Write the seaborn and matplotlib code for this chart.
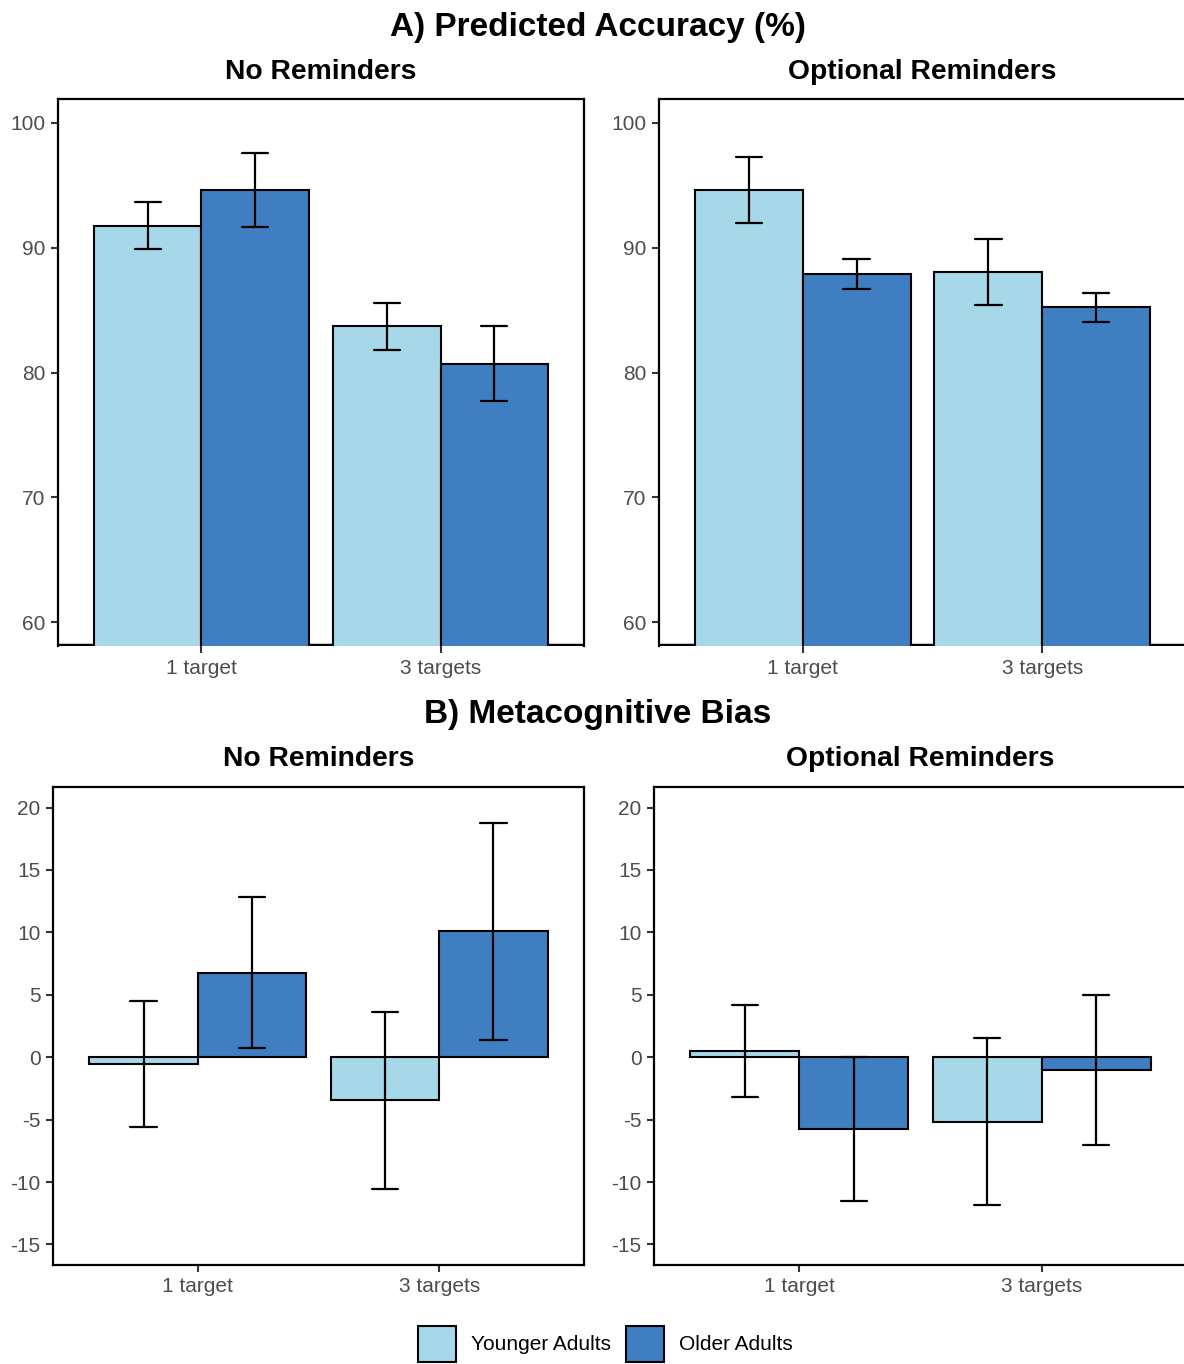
import pandas as pd
import matplotlib.pyplot as plt
import seaborn as sns
from matplotlib.patches import Patch

sns.set_style("ticks")
plt.rcParams['font.family'] = ['Liberation Sans', 'DejaVu Sans']
plt.rcParams['axes.unicode_minus'] = False

conditions = ["No Reminders", "Optional Reminders"]
targets = ["1 target", "3 targets"]
groups = ["Younger Adults", "Older Adults"]
colors = ["#A6D8EA", "#3F7EC1"]

# order: 1 target (younger, older), 3 targets (younger, older)
acc_no_mean = [91.75, 94.6, 83.7, 80.7]
acc_no_err = [1.88, 2.97, 1.9, 3.0]
acc_opt_mean = [94.62, 87.9, 88.05, 85.22]
acc_opt_err = [2.65, 1.18, 2.65, 1.18]

bias_no_mean = [-0.55, 6.75, -3.45, 10.08]
bias_no_err = [5.05, 6.05, 7.1, 8.7]
bias_opt_mean = [0.52, -5.77, -5.18, -1.0]
bias_opt_err = [3.7, 5.75, 6.7, 6.0]

acc_ticks = [60, 70, 80, 90, 100]
bias_ticks = [-15, -10, -5, 0, 5, 10, 15, 20]

W, H = 1184, 1364


def make_df(means, errs):
    # two rows per bar (mean - se, mean + se): mean gives the bar, min/max the error bar
    rows = []
    i = 0
    for t in targets:
        for g in groups:
            for v in (means[i] - errs[i], means[i] + errs[i]):
                rows.append({"target": t, "group": g, "value": v})
            i += 1
    return pd.DataFrame(rows)


def add_ax(fig, left, right, top, bottom):
    return fig.add_axes([left / W, 1 - bottom / H, (right - left) / W, (bottom - top) / H])


def bar_panel(ax, df, ylim, yticks, bars_cut=False):
    sns.barplot(data=df, x="target", y="value", hue="group", order=targets,
                hue_order=groups, palette=colors, saturation=1, width=0.9,
                estimator="mean", errorbar=("pi", 100), capsize=0.22,
                err_kws={"color": "black", "linewidth": 1.6},
                edgecolor="black", linewidth=1.5, legend=False, ax=ax)
    ax.set_xlim(-0.6, 1.6)
    ax.set_ylim(*ylim)
    ax.set_yticks(yticks)
    ax.set_yticklabels([str(t) for t in yticks])
    ax.set_xlabel("")
    ax.set_ylabel("")
    for s in ax.spines.values():
        s.set_visible(True)
        s.set_linewidth(1.6)
        s.set_color("black")
    if bars_cut:
        # bars run past the lower limit: draw the bottom border inside the panel
        # so the bars hide it, like a clipped ggplot panel border
        ax.spines["bottom"].set_visible(False)
        ax.axhline(ylim[0], color="black", linewidth=3.2, zorder=2)
    # bars over the border, error bars over the bars
    for p in ax.patches:
        p.set_zorder(3)
    for ln in ax.lines:
        if ln.get_linewidth() < 3:
            ln.set_zorder(4)
    ax.tick_params(length=5, width=1.5, color="#333333", labelcolor="#4D4D4D",
                   labelsize=15, pad=4)


fig = plt.figure(figsize=(W / 100, H / 100), dpi=100)

ax1 = add_ax(fig, 58, 584, 99, 646)
ax2 = add_ax(fig, 659, 1186, 99, 646)
ax3 = add_ax(fig, 53, 584, 787, 1265)
ax4 = add_ax(fig, 654, 1187, 787, 1265)

bar_panel(ax1, make_df(acc_no_mean, acc_no_err), (58.1, 101.9), acc_ticks, True)
bar_panel(ax2, make_df(acc_opt_mean, acc_opt_err), (58.1, 101.9), acc_ticks, True)
bar_panel(ax3, make_df(bias_no_mean, bias_no_err), (-16.65, 21.65), bias_ticks)
bar_panel(ax4, make_df(bias_opt_mean, bias_opt_err), (-16.65, 21.65), bias_ticks)

fig.text(598 / W, 1 - 36 / H, "A) Predicted Accuracy (%)", ha="center", va="baseline",
         fontsize=24, fontweight="bold", color="black")
fig.text(598 / W, 1 - 723 / H, "B) Metacognitive Bias", ha="center", va="baseline",
         fontsize=24, fontweight="bold", color="black")
for ax, name in zip([ax1, ax2], conditions):
    pos = ax.get_position()
    fig.text((pos.x0 + pos.x1) / 2, 1 - 79 / H, name, ha="center", va="baseline",
             fontsize=20.3, fontweight="bold", color="black")
for ax, name in zip([ax3, ax4], conditions):
    pos = ax.get_position()
    fig.text((pos.x0 + pos.x1) / 2, 1 - 766 / H, name, ha="center", va="baseline",
             fontsize=20.3, fontweight="bold", color="black")

handles = [Patch(facecolor=c, edgecolor="black", linewidth=1.5) for c in colors]
fig.legend(handles, groups, loc="center", bbox_to_anchor=(605 / W, 1 - 1344 / H),
           ncol=2, frameon=False, fontsize=15, handlelength=1.83, handleheight=2.29,
           handletextpad=0.72, columnspacing=0.72, labelcolor="black")

fig.savefig("out.png", dpi=100)
